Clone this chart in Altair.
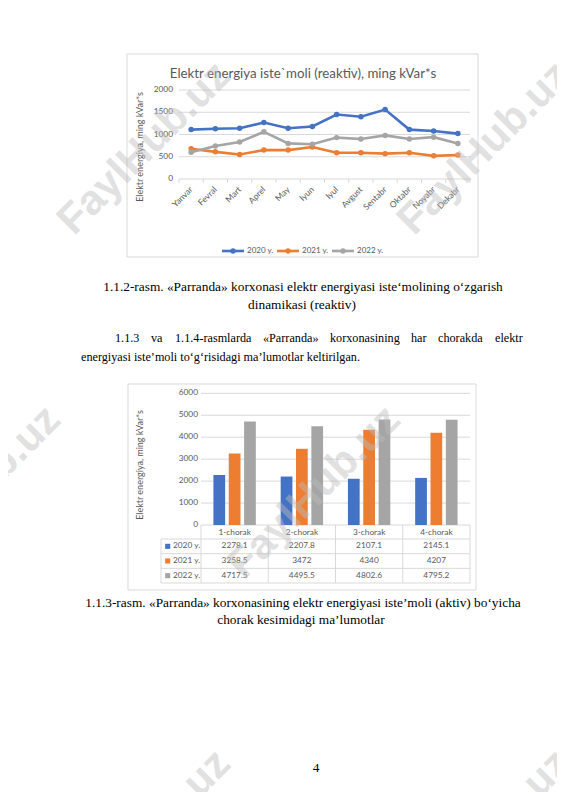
import altair as alt
import pandas as pd

# ---------------- data ----------------
months = ["Yanvar", "Fevral", "Mart", "Aprel", "May", "Iyun", "Iyul",
          "Avgust", "Sentabr", "Oktabr", "Noyabr", "Dekabr"]
series = ["2020 y.", "2021 y.", "2022 y."]
reactive_2020 = [1110, 1130, 1140, 1270, 1140, 1180, 1450, 1400, 1560, 1110, 1080, 1020]
reactive_2021 = [680, 610, 550, 650, 650, 720, 590, 590, 570, 590, 520, 540]
reactive_2022 = [600, 740, 830, 1060, 800, 780, 930, 900, 980, 900, 940, 800]

quarters = ["1-chorak", "2-chorak", "3-chorak", "4-chorak"]
active_2020 = [2278.1, 2207.8, 2107.1, 2145.1]
active_2021 = [3258.5, 3472, 4340, 4207]
active_2022 = [4717.5, 4495.5, 4802.6, 4795.2]

line_ticks = [0, 500, 1000, 1500, 2000]
bar_ticks = [0, 1000, 2000, 3000, 4000, 5000, 6000]

colors = ["#4472C4", "#ED7D31", "#A5A5A5"]

title1 = "Elektr energiya iste`moli (reaktiv), ming kVar*s"
ytitle = "Elektr energiya, ming kVar*s"

caption_lines = [
    ("1.1.2-rasm. «Parranda» korxonasi elektr energiyasi iste‘molining o‘zgarish", 303, 287),
    ("dinamikasi (reaktiv)", 302, 305),
    ("1.1.3-rasm. «Parranda» korxonasining elektr energiyasi iste’moli (aktiv) bo‘yicha", 303, 603),
    ("chorak kesimidagi ma’lumotlar", 301, 620),
    ("4", 316, 768),
]
para_words = [("1.1.3", 115), ("va", 151), ("1.1.4-rasmlarda", 175), ("«Parranda»", 263),
              ("korxonasining", 330), ("har", 411), ("chorakda", 438), ("elektr", 495)]
para_line2 = "energiyasi iste’moli to‘g‘risidagi ma’lumotlar keltirilgan."

watermark = "FaylHub.uz"
watermark_centres = [(144, 148), (484, 148), (-26, 492), (314, 492), (144, 836), (484, 836)]

# ---------------- layout helpers (page px -> chart px) ----------------
M = 8
def c(v):
    return v - M

FONT = "Lato"
SERIF = "Liberation Serif"
AX = "#595959"
GRID = "#d9d9d9"

col = alt.Scale(domain=series, range=colors)

# ---------------- frames ----------------
frames = pd.DataFrame({
    "x": [c(127), c(128)], "x2": [c(478), c(476)],
    "y": [c(54), c(384)], "y2": [c(257), c(590)],
})
frame_layer = alt.Chart(frames).mark_rect(fillOpacity=0, stroke=GRID, strokeWidth=1).encode(
    x=alt.X("x:Q", scale=None), x2="x2:Q", y=alt.Y("y:Q", scale=None), y2="y2:Q")

# ---------------- chart 1: line chart ----------------
line_df = pd.DataFrame([
    {"month": m, "series": s, "value": v}
    for s, vals in zip(series, [reactive_2020, reactive_2021, reactive_2022])
    for m, v in zip(months, vals)
])
x1 = alt.Scale(type="point", domain=months, padding=0.5, range=[c(179), c(470)])
y1 = alt.Scale(domain=[0, 2000], range=[c(179), c(90)], nice=False, zero=False)

grid1 = alt.Chart(pd.DataFrame({"v": line_ticks})).mark_rule(color=GRID, strokeWidth=1).encode(
    y=alt.Y("v:Q", scale=y1, axis=None), x=alt.value(c(179)), x2=alt.value(c(470)))
ylab1 = alt.Chart(pd.DataFrame({"v": line_ticks})).mark_text(
    align="right", baseline="middle", font=FONT, fontSize=8.3, color=AX).encode(
    y=alt.Y("v:Q", scale=y1, axis=None), x=alt.value(c(173)), text=alt.Text("v:Q", format="d"))
ticks1 = alt.Chart(pd.DataFrame({"i": list(range(len(months) + 1))})).mark_rule(
    color=GRID, strokeWidth=1).encode(
    x=alt.X("i:Q", scale=alt.Scale(domain=[0, len(months)], range=[c(179), c(470)], nice=False, zero=False), axis=None),
    y=alt.value(c(179)), y2=alt.value(c(183)))
lines = alt.Chart(line_df).mark_line(strokeWidth=2.6).encode(
    x=alt.X("month:N", scale=x1, axis=None),
    y=alt.Y("value:Q", scale=y1, axis=None),
    color=alt.Color("series:N", scale=col, legend=None),
    order=alt.Order("series:N"))
dots = alt.Chart(line_df).mark_circle(size=30, opacity=1).encode(
    x=alt.X("month:N", scale=x1, axis=None),
    y=alt.Y("value:Q", scale=y1, axis=None),
    color=alt.Color("series:N", scale=col, legend=None))
xlab1 = alt.Chart(pd.DataFrame({"month": months})).mark_text(
    align="right", baseline="middle", angle=315, font=FONT, fontSize=8.5, color=AX).encode(
    x=alt.X("month:N", scale=x1, axis=None), y=alt.value(c(188)), text="month:N")

# legend of chart 1
leg_x = alt.Scale(type="point", domain=series, range=[c(233), c(343)], padding=0)
leg_df = pd.DataFrame({"series": series})
leg_line = alt.Chart(leg_df).mark_point(shape="M-1,0L1,0", size=484, strokeWidth=2.6, filled=False, opacity=1).encode(
    x=alt.X("series:N", scale=leg_x, axis=None), y=alt.value(c(251)),
    color=alt.Color("series:N", scale=col, legend=None))
leg_dot = alt.Chart(leg_df).mark_circle(size=28, opacity=1).encode(
    x=alt.X("series:N", scale=leg_x, axis=None), y=alt.value(c(251)),
    color=alt.Color("series:N", scale=col, legend=None))
leg_txt = alt.Chart(leg_df).mark_text(align="left", baseline="middle", dx=14, font=FONT, fontSize=8, color=AX).encode(
    x=alt.X("series:N", scale=leg_x, axis=None), y=alt.value(c(251)), text="series:N")

# ---------------- chart 2: grouped bars + data table ----------------
bar_df = pd.DataFrame([
    {"quarter": q, "series": s, "value": v}
    for s, vals in zip(series, [active_2020, active_2021, active_2022])
    for q, v in zip(quarters, vals)
])
x2s = alt.Scale(type="band", domain=quarters, range=[c(201), c(470)], paddingInner=0, paddingOuter=0)
xos = alt.Scale(domain=series, paddingInner=0.235, paddingOuter=0.81)
y2s = alt.Scale(domain=[0, 6000], range=[c(525), c(393.3)], nice=False, zero=True)
rows = alt.Scale(type="band", domain=series, range=[c(539), c(583)], paddingInner=0, paddingOuter=0)

grid2 = alt.Chart(pd.DataFrame({"v": bar_ticks})).mark_rule(color=GRID, strokeWidth=1).encode(
    y=alt.Y("v:Q", scale=y2s, axis=None), x=alt.value(c(201)), x2=alt.value(c(470)))
ylab2 = alt.Chart(pd.DataFrame({"v": bar_ticks})).mark_text(
    align="right", baseline="middle", font=FONT, fontSize=8.3, color=AX).encode(
    y=alt.Y("v:Q", scale=y2s, axis=None), x=alt.value(c(198)), text=alt.Text("v:Q", format="d"))
bars = alt.Chart(bar_df).mark_bar().encode(
    x=alt.X("quarter:N", scale=x2s, axis=None),
    xOffset=alt.XOffset("series:N", scale=xos),
    y=alt.Y("value:Q", scale=y2s, axis=None),
    color=alt.Color("series:N", scale=col, legend=None))

tab_h = alt.Chart(pd.DataFrame({"r": [0, 1, 2, 3]})).mark_rule(color=GRID, strokeWidth=1).encode(
    y=alt.Y("r:Q", scale=alt.Scale(domain=[0, 3], range=[c(539), c(583)], nice=False, zero=False), axis=None),
    x=alt.value(c(161)), x2=alt.value(c(470)))
tab_v = alt.Chart(pd.DataFrame({"q": [0, 1, 2, 3, 4]})).mark_rule(color=GRID, strokeWidth=1).encode(
    x=alt.X("q:Q", scale=alt.Scale(domain=[0, 4], range=[c(201), c(470)], nice=False, zero=False), axis=None),
    y=alt.value(c(525)), y2=alt.value(c(583)))
tab_left = alt.Chart(pd.DataFrame({"a": [0]})).mark_rule(color=GRID, strokeWidth=1).encode(
    x=alt.value(c(161)), y=alt.value(c(539)), y2=alt.value(c(583)))
tab_cat = alt.Chart(pd.DataFrame({"quarter": quarters})).mark_text(
    baseline="middle", font=FONT, fontSize=8.3, color=AX).encode(
    x=alt.X("quarter:N", scale=x2s, axis=None), y=alt.value(c(532.5)), text="quarter:N")
tab_val = alt.Chart(bar_df).mark_text(baseline="middle", font=FONT, fontSize=8.3, color=AX).encode(
    x=alt.X("quarter:N", scale=x2s, axis=None),
    y=alt.Y("series:N", scale=rows, axis=None),
    text=alt.Text("value:Q", format="~g"))
tab_sq = alt.Chart(leg_df).mark_square(size=26, opacity=1).encode(
    x=alt.value(c(167.7)), y=alt.Y("series:N", scale=rows, axis=None),
    color=alt.Color("series:N", scale=col, legend=None))
tab_lab = alt.Chart(leg_df).mark_text(align="left", baseline="middle", font=FONT, fontSize=8.3, color=AX).encode(
    x=alt.value(c(173)), y=alt.Y("series:N", scale=rows, axis=None), text="series:N")

# ---------------- chart titles ----------------
titles = pd.DataFrame({"t": [title1], "x": [c(303)], "y": [c(74)]})
title_layer = alt.Chart(titles).mark_text(font=FONT, fontSize=13.3, color=AX, baseline="middle").encode(
    x=alt.X("x:Q", scale=None), y=alt.Y("y:Q", scale=None), text="t:N")
ytitles = pd.DataFrame({"t": [ytitle, ytitle], "x": [c(140), c(140)], "y": [c(147), c(465)]})
ytitle_layer = alt.Chart(ytitles).mark_text(font=FONT, fontSize=9, color=AX, angle=270, baseline="middle").encode(
    x=alt.X("x:Q", scale=None), y=alt.Y("y:Q", scale=None), text="t:N")

# ---------------- document text ----------------
cap_df = pd.DataFrame({"t": [t for t, _, _ in caption_lines],
                       "x": [c(x) for _, x, _ in caption_lines],
                       "y": [c(y) for _, _, y in caption_lines]})
cap_layer = alt.Chart(cap_df).mark_text(font=SERIF, fontSize=13.35, color="#000000", baseline="middle").encode(
    x=alt.X("x:Q", scale=None), y=alt.Y("y:Q", scale=None), text="t:N")
para_df = pd.DataFrame({"t": [w for w, _ in para_words] + [para_line2],
                        "x": [c(x) for _, x in para_words] + [c(81)],
                        "y": [c(338)] * len(para_words) + [c(357)]})
para_layer = alt.Chart(para_df).mark_text(font=SERIF, fontSize=12.2, color="#000000", align="left", baseline="middle").encode(
    x=alt.X("x:Q", scale=None), y=alt.Y("y:Q", scale=None), text="t:N")

# ---------------- watermarks ----------------
wm_df = pd.DataFrame({"t": [watermark] * len(watermark_centres),
                      "x": [c(x) for x, _ in watermark_centres],
                      "y": [c(y) for _, y in watermark_centres]})
wm_layer = alt.Chart(wm_df).mark_text(font="Liberation Sans", fontWeight="bold", fontSize=42, angle=315,
                                      color="#bdbdbd", opacity=0.45, baseline="middle").encode(
    x=alt.X("x:Q", scale=None), y=alt.Y("y:Q", scale=None), text="t:N")

chart = alt.layer(
    frame_layer,
    grid1, ticks1, ylab1, lines, dots, xlab1, leg_line, leg_dot, leg_txt,
    grid2, ylab2, bars, tab_h, tab_v, tab_left, tab_cat, tab_val, tab_sq, tab_lab,
    title_layer, ytitle_layer, cap_layer, para_layer, wm_layer,
).resolve_scale(x="independent", y="independent").properties(
    width=549, height=784, autosize=alt.AutoSizeParams(type="none"), padding=0,
    background="#ffffff",
).configure_view(strokeWidth=0)

chart.save("out.html", embed_options={"renderer": "svg", "actions": False})
